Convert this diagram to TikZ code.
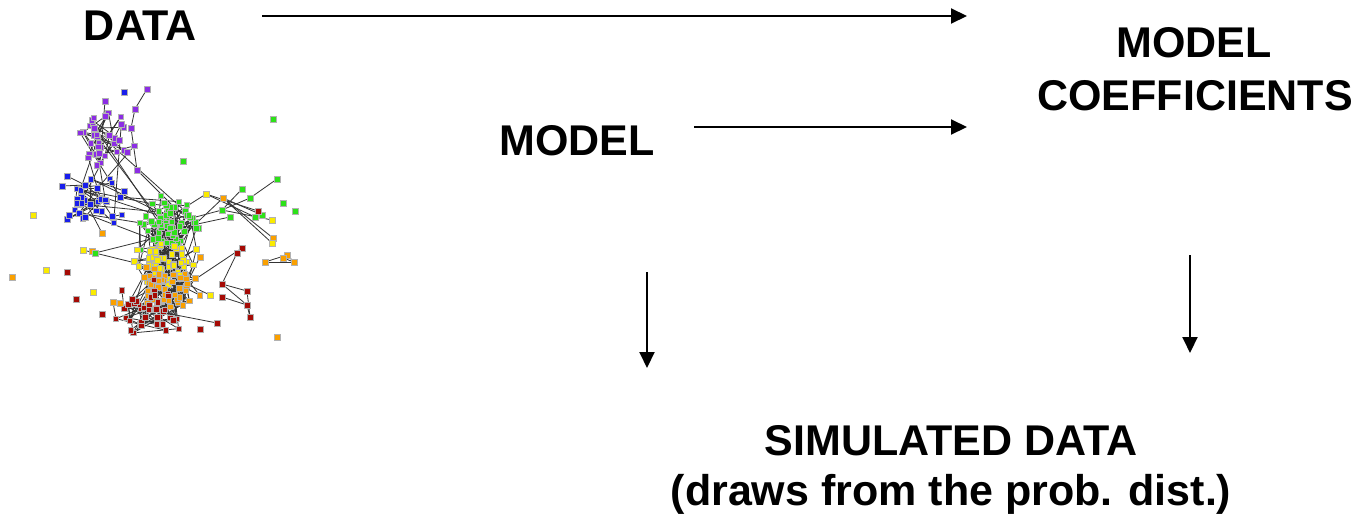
\documentclass[tikz,border=0pt]{standalone}
\usepackage{fontspec}
\setmainfont{Liberation Sans}
\usetikzlibrary{arrows.meta}
\definecolor{netpurple}{RGB}{140,45,228}
\definecolor{netblue}{RGB}{25,30,235}
\definecolor{netgreen}{RGB}{45,225,25}
\definecolor{netyellow}{RGB}{250,235,0}
\definecolor{netorange}{RGB}{250,160,0}
\definecolor{netred}{RGB}{165,10,5}
\tikzset{
  lbl/.style={font=\fontsize{43}{50}\selectfont\bfseries, inner sep=0pt, anchor=base},
  arr/.style={line width=2pt, -{Triangle[length=16pt,width=15pt]}},
  edge/.style={line width=0.8pt, draw=black!80},
  vert/.style={rectangle, fill=#1, draw=black!30, line width=0.5pt, minimum size=5.5pt, inner sep=0pt},
}
% random cluster of vertex positions: name, cx, cy, hx, hy, n
\newcommand\mkcluster[6]{%
  \foreach \k in {1,...,#6}{
    \pgfmathsetmacro\px{#2+#4*(0.7*rand+0.3*rand)}
    \pgfmathsetmacro\py{#3+#5*(0.7*rand+0.3*rand)}
    \coordinate (#1-\k) at (\px,\py);
  }}
% edges inside a cluster: name, n, probability
\newcommand\mkedges[3]{%
  \foreach \k in {2,...,#2}{
    \pgfmathsetmacro\pr{rnd}
    \pgfmathtruncatemacro\j{1+floor(rnd*(\k-1))}
    \ifdim\pr pt<#3pt\relax \draw[edge] (#1-\k) -- (#1-\j);\fi
  }}
% edges between two clusters: nameA, nA, nameB, nB, count
\newcommand\mkcross[5]{%
  \foreach \k in {1,...,#5}{
    \pgfmathtruncatemacro\a{1+floor(rnd*(#2-1))}
    \pgfmathtruncatemacro\b{1+floor(rnd*(#4-1))}
    \draw[edge] (#1-\a) -- (#3-\b);
  }}
% vertices of a cluster: name, n, colour
\newcommand\mkverts[3]{%
  \foreach \k in {1,...,#2}{\node[vert=#3] (v#1-\k) at (#1-\k) {};}}
\begin{document}
\begin{tikzpicture}[x=1pt,y=-1pt]
\useasboundingbox (0,0) rectangle (1359,517);
\fill[white] (0,0) rectangle (1359,517);

% ---- network ----
\pgfmathsetseed{4711}
\mkcluster{P}{104}{140}{32}{28}{35}
\mkcluster{B}{97}{200}{32}{25}{30}
\mkcluster{G}{168}{222}{33}{30}{60}
\mkcluster{Y}{167}{262}{34}{26}{50}
\mkcluster{O}{168}{290}{33}{26}{45}
\mkcluster{R}{150}{312}{37}{35}{40}

\foreach \nm/\x/\y in {
  o1/124/92, o2/147/89, o3/135/109, o4/105/101, o5/273/119, o6/183/161,
  o7/277/179, o8/250/198, o9/242/189, o10/222/210, o11/283/203, o12/295/211,
  o13/255/217, o14/262/215, o15/33/215, o16/12/277, o17/46/270, o18/67/272,
  o19/93/292, o20/76/299, o21/102/314, o22/113/302, o23/120/303, o24/277/337,
  o25/200/329, o26/217/323, o27/265/262, o28/287/255, o29/283/258, o30/294/262,
  o31/222/284, o32/247/291, o33/247/305, o34/250/317, o35/222/297, o36/206/194,
  o37/223/198, o38/272/220, o39/273/238, o40/272/243, o41/258/211, o42/83/250,
  o43/92/251, o44/95/253, o45/102/233, o46/242/248, o47/237/253, o48/62/186,
  o49/67/176, o50/85/185, o51/69/215, o52/85/217, o53/131/128, o54/137/170,
  o55/230/217, o56/200/257, o57/210/295}
  {\coordinate (\nm) at (\x,\y);}

\mkedges{P}{35}{0.8}
\mkedges{B}{30}{0.8}
\mkedges{G}{60}{0.9}
\mkedges{Y}{50}{0.95}
\mkedges{O}{45}{0.95}
\mkedges{R}{40}{0.8}
\mkcross{P}{35}{B}{30}{7}
\mkcross{P}{35}{G}{60}{3}
\mkcross{B}{30}{G}{60}{7}
\mkcross{G}{60}{Y}{50}{25}
\mkcross{Y}{50}{O}{45}{25}
\mkcross{O}{45}{R}{40}{25}
\mkcross{G}{60}{O}{45}{8}
\mkcross{Y}{50}{R}{40}{12}
\mkcross{G}{60}{R}{40}{8}

\foreach \a/\b in {o2/o3, o3/o53, o53/o54, o7/o8, o9/o10, o8/o10, o27/o28, o28/o30,
  o27/o30, o29/o30, o31/o32, o31/o33, o32/o34, o33/o34, o35/o33, o48/o50, o49/o50,
  o51/o52, o44/G-3, o10/G-5, o38/o10, o14/o37, o41/o36, o13/o36, o46/O-2, o47/o31,
  o26/R-4, o45/B-2, o54/G-1, o36/G-10, o37/Y-5, o39/o37, o40/o37, o56/O-7, o57/O-8,
  o22/R-3, o23/R-5, o42/o44, o44/Y-3, o55/G-12, o4/P-2, o50/B-5, o52/B-9}
  {\draw[edge] (\a) -- (\b);}

\mkverts{P}{35}{netpurple}
\mkverts{B}{30}{netblue}
\mkverts{G}{60}{netgreen}
\mkverts{Y}{50}{netyellow}
\mkverts{O}{45}{netorange}
\mkverts{R}{40}{netred}
\foreach \nm/\c in {
  o1/netblue, o2/netpurple, o3/netpurple, o4/netpurple, o5/netgreen, o6/netgreen,
  o7/netgreen, o8/netgreen, o9/netgreen, o10/netgreen, o11/netgreen, o12/netgreen,
  o13/netgreen, o14/netgreen, o15/netyellow, o16/netorange, o17/netyellow, o18/netred,
  o19/netyellow, o20/netred, o21/netred, o22/netorange, o23/netorange, o24/netorange,
  o25/netred, o26/netred, o27/netorange, o28/netorange, o29/netorange, o30/netorange,
  o31/netred, o32/netred, o33/netred, o34/netred, o35/netred, o36/netyellow,
  o37/netorange, o38/netyellow, o39/netorange, o40/netyellow, o41/netred, o42/netyellow,
  o43/netorange, o44/netgreen, o45/netorange, o46/netred, o47/netred, o48/netblue,
  o49/netblue, o50/netblue, o51/netblue, o52/netblue, o53/netpurple, o54/netpurple,
  o55/netgreen, o56/netorange, o57/netyellow}
  {\node[vert=\c] (v\nm) at (\nm) {};}

% ---- labels ----
\node[lbl] (data)  at (140.5,40) {DATA};
\node[lbl] (coefA) at (1194,57)  {MODEL};
\node[lbl] (coefB) at (1195,110) {COEFFICIENTS};
\node[lbl] (model) at (577,155)  {MODEL};
\node[lbl] (simA)  at (951,455)  {SIMULATED DATA};
\node[lbl] (simB)  at (951,505)  {(draws from the prob. dist.)};

% ---- arrows ----
\coordinate (dataout)  at (262,16);
\coordinate (coefin)   at (967,16);
\coordinate (modelout) at (694,127);
\coordinate (coefin2)  at (967,127);
\coordinate (modeldn)  at (647,272);
\coordinate (simin1)   at (647,368);
\coordinate (coefdn)   at (1190,255);
\coordinate (simin2)   at (1190,353);
\draw[arr] (dataout) -- (coefin);
\draw[arr] (modelout) -- (coefin2);
\draw[arr] (modeldn) -- (simin1);
\draw[arr] (coefdn) -- (simin2);
\end{tikzpicture}
\end{document}
